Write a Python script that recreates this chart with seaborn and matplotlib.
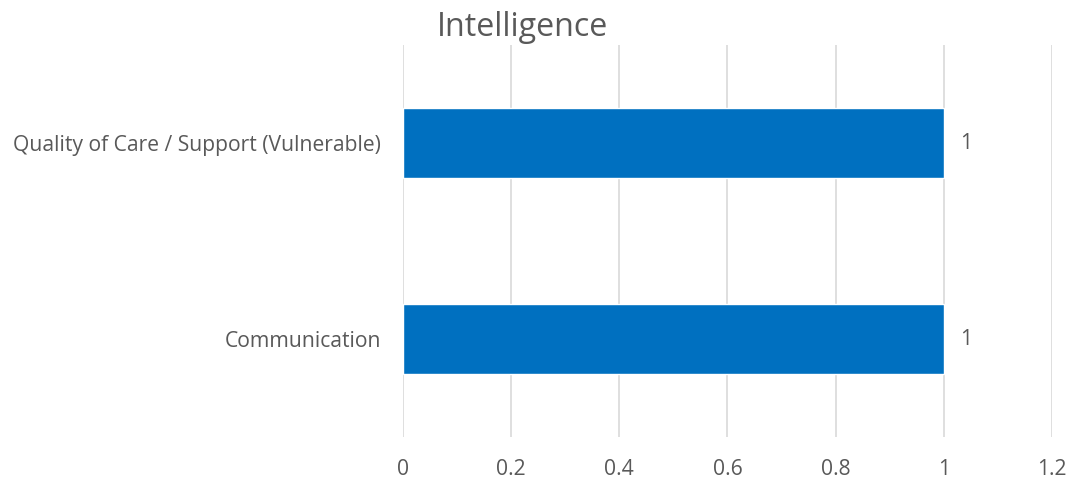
import matplotlib
matplotlib.use("Agg")
import matplotlib.pyplot as plt
import seaborn as sns
import pandas as pd

# ================= Data =================
categories = ["Quality of Care / Support (Vulnerable)", "Communication"]
values = [1, 1]
x_ticks = [0, 0.2, 0.4, 0.6, 0.8, 1, 1.2]
x_tick_labels = ["0", "0.2", "0.4", "0.6", "0.8", "1", "1.2"]

df = pd.DataFrame({"category": categories, "value": values})

sns.set_style("white")
plt.rcParams["font.family"] = ["Open Sans", "DejaVu Sans"]
text_color = "#595959"

fig = plt.figure(figsize=(10.73, 4.79), dpi=100)
ax = fig.add_axes([0.3756, 0.0877, 0.6048, 0.818])

sns.barplot(data=df, x="value", y="category", orient="h", color="#0070C0",
            width=0.36, saturation=1, ax=ax)

ax.set_xlim(0, 1.2)
ax.set_ylim(1.5, -0.5)
ax.set_xticks(x_ticks)
ax.set_xticklabels(x_tick_labels)
ax.xaxis.grid(True, color="#d9d9d9", linewidth=1.2)
ax.set_axisbelow(True)
for s in ax.spines.values():
    s.set_visible(False)
ax.tick_params(axis="y", length=0, labelsize=15.2, colors=text_color, pad=16)
ax.tick_params(axis="x", length=0, labelsize=15.2, colors=text_color, pad=16)
ax.set_xlabel("")
ax.set_ylabel("")

# data labels
for i, v in enumerate(values):
    ax.text(v + 0.03, i, f"{v:g}", va="center", ha="left", fontsize=15.2, color=text_color)

fig.text(0.487, 0.943, "Intelligence", ha="center", va="center", fontsize=23.2, color=text_color)

fig.savefig("out.png", dpi=100)
